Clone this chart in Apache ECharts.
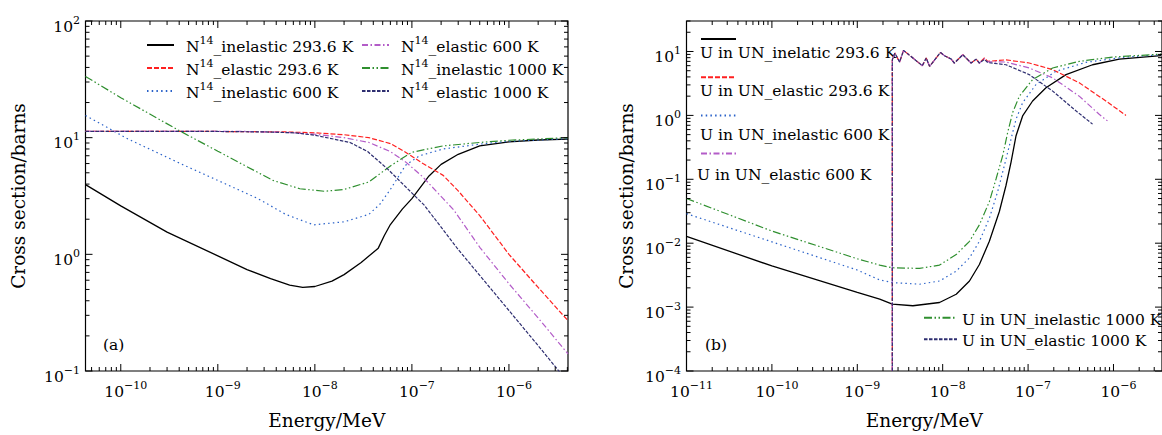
<!DOCTYPE html>
<html><head><meta charset="utf-8">
<script src="https://cdn.jsdelivr.net/npm/echarts@6/dist/echarts.min.js"></script>
<style>html,body{margin:0;padding:0;background:#fff}#c{width:1162px;height:435px}</style>
</head><body><div id="c"></div>
<script>
// ---------- Panel (a): N14 cross sections  [energy MeV, barns] ----------
const aInel293 = [[4.33e-11,3.96],[1e-10,2.6],[3e-10,1.55],[1e-9,0.97],[2e-9,0.74],[3.5e-9,0.62],[5.5e-9,0.545],[7.5e-9,0.52],[1e-8,0.53],[1.5e-8,0.59],[2e-8,0.67],[3e-8,0.85],[4.5e-8,1.13],[5.2e-8,1.45],[6e-8,1.8],[8e-8,2.45],[1e-7,3.0],[1.5e-7,4.7],[2e-7,5.9],[3e-7,7.2],[5e-7,8.5],[1e-6,9.2],[2e-6,9.55],[4.06e-6,9.7]];
const aEl293 = [[4.33e-11,11.3],[1e-9,11.3],[5e-9,11.2],[1e-8,11.0],[2e-8,10.6],[3.6e-8,10.0],[6e-8,8.9],[8.6e-8,7.5],[1.3e-7,6.0],[2.1e-7,4.75],[3e-7,3.5],[5e-7,2.15],[1e-6,1.0],[2e-6,0.52],[4.06e-6,0.27]];
const aInel600 = [[4.33e-11,15.5],[1.2e-10,9.7],[4.5e-10,5.8],[1e-9,4.3],[2.6e-9,3.0],[5e-9,2.2],[9.7e-9,1.79],[2e-8,1.9],[3.6e-8,2.2],[4.7e-8,2.7],[6e-8,3.6],[8.6e-8,5.8],[1.2e-7,7.0],[2.1e-7,8.0],[5e-7,8.8],[1e-6,9.3],[4.06e-6,9.8]];
const aEl600 = [[4.33e-11,11.3],[2e-9,11.3],[5e-9,11.1],[1e-8,10.7],[2e-8,10.0],[3.6e-8,9.1],[6e-8,7.6],[8.6e-8,6.2],[1.3e-7,4.6],[2.1e-7,3.0],[2.7e-7,2.4],[5e-7,1.15],[1e-6,0.56],[2e-6,0.285],[4.06e-6,0.14]];
const aInel1000 = [[4.33e-11,33.5],[1e-10,22],[4e-10,11.5],[1e-9,7.65],[3.7e-9,4.3],[7e-9,3.65],[1.26e-8,3.47],[2e-8,3.6],[3.6e-8,4.17],[6.1e-8,5.78],[1e-7,7.5],[2.1e-7,8.5],[5e-7,9.1],[1e-6,9.5],[4.06e-6,10.0]];
const aEl1000 = [[4.33e-11,11.3],[1e-9,11.3],[3e-9,11.2],[6.2e-9,11.0],[1e-8,10.5],[2.3e-8,9.1],[3.5e-8,7.6],[5.6e-8,5.4],[1.34e-7,2.64],[3e-7,1.1],[1e-6,0.33],[2e-6,0.165],[4.06e-6,0.08]];

// ---------- Panel (b): U in UN cross sections ----------
const bInel293 = [[1e-11,0.0128],[1e-10,4.4e-3],[1e-9,1.7e-3],[1.83e-9,1.33e-3],[2.57e-9,1.11e-3],[4.48e-9,1.05e-3],[9.18e-9,1.18e-3],[1.44e-8,1.59e-3],[2.06e-8,2.56e-3],[2.69e-8,4.64e-3],[3.52e-8,0.0107],[4.61e-8,0.0313],[5.52e-8,0.0807],[6.32e-8,0.186],[7.23e-8,0.481],[8.63e-8,0.98],[1.13e-7,1.68],[1.62e-7,2.7],[2.78e-7,4.35],[5.69e-7,6.2],[1.17e-6,7.6],[3.6e-6,8.6]];
const bEl293 = [[2.57e-9,1e-4],[2.57e-9,7.4],[2.75e-9,9.43],[3.13e-9,6.85],[3.48e-9,10.4],[5.77e-9,6.0],[6.42e-9,7.9],[7.02e-9,5.85],[9.43e-9,9.65],[1.05e-8,8.6],[1.26e-8,7.6],[1.37e-8,6.6],[1.72e-8,8.9],[2.15e-8,6.6],[2.47e-8,7.6],[2.69e-8,6.6],[3.08e-8,7.9],[3.37e-8,7.0],[5.52e-8,7.4],[1.03e-7,6.6],[1.94e-7,5.2],[3.97e-7,3.24],[8.14e-7,1.68],[1.4e-6,1.0]];
const bInel600 = [[1e-11,0.029],[1e-10,0.0105],[1e-9,3.8e-3],[1.83e-9,2.66e-3],[2.57e-9,2.42e-3],[5.36e-9,2.28e-3],[9.18e-9,2.56e-3],[1.44e-8,3.66e-3],[2.06e-8,5.89e-3],[2.69e-8,0.0107],[3.52e-8,0.0246],[4.4e-8,0.0638],[5.28e-8,0.165],[6.32e-8,0.428],[7.23e-8,0.873],[8.63e-8,1.58],[1.24e-7,3.05],[2.12e-7,4.9],[4.76e-7,6.76],[1.4e-6,8.2],[3.6e-6,8.9]];
const bEl600 = [[2.57e-9,1e-4],[2.57e-9,7.4],[2.75e-9,9.43],[3.13e-9,6.85],[3.48e-9,10.4],[5.77e-9,6.0],[6.42e-9,7.9],[7.02e-9,5.85],[9.43e-9,9.65],[1.05e-8,8.6],[1.26e-8,7.6],[1.37e-8,6.6],[1.72e-8,8.9],[2.15e-8,6.6],[2.47e-8,7.6],[2.69e-8,6.6],[3.08e-8,7.7],[3.37e-8,6.9],[5.52e-8,6.85],[1.03e-7,5.52],[1.94e-7,3.87],[3.97e-7,2.0],[6.8e-7,1.04],[8.5e-7,0.82]];
const bInel1000 = [[1e-11,0.050],[1e-10,0.0155],[1e-9,5.7e-3],[1.83e-9,4.54e-3],[2.57e-9,4.13e-3],[5.36e-9,4.03e-3],[9.18e-9,4.54e-3],[1.44e-8,6.64e-3],[2.06e-8,0.0107],[2.69e-8,0.0194],[3.52e-8,0.0447],[4.23e-8,0.103],[5.05e-8,0.236],[5.77e-8,0.543],[6.6e-8,1.11],[7.91e-8,2.0],[1.13e-7,3.64],[1.94e-7,5.52],[3.97e-7,7.0],[9.73e-7,8.18],[3.6e-6,9.1]];
const bEl1000 = [[2.57e-9,1e-4],[2.57e-9,7.4],[2.75e-9,9.43],[3.13e-9,6.85],[3.48e-9,10.4],[5.77e-9,6.0],[6.42e-9,7.9],[7.02e-9,5.85],[9.43e-9,9.65],[1.05e-8,8.6],[1.26e-8,7.6],[1.37e-8,6.6],[1.72e-8,8.9],[2.15e-8,6.6],[2.47e-8,7.6],[2.69e-8,6.6],[3.08e-8,7.5],[3.37e-8,6.7],[5.52e-8,6.2],[1.03e-7,4.35],[1.94e-7,2.4],[3.63e-7,1.18],[5.69e-7,0.73]];

// ---------- Axis extents and tick exponents ----------
const xRangeA = [4.33e-11, 4.06e-6], yRangeA = [0.1, 100];
const xRangeB = [1e-11, 3.7e-6],     yRangeB = [1e-4, 30];
const xMajorA = [-10, -9, -8, -7, -6], yMajorA = [-1, 0, 1, 2];
const xMajorB = [-11, -10, -9, -8, -7, -6], yMajorB = [-4, -3, -2, -1, 0, 1];

const namesA = ['N14_inelastic 293.6 K','N14_elastic 293.6 K','N14_inelastic 600 K','N14_elastic 600 K','N14_inelastic 1000 K','N14_elastic 1000 K'];
const namesB = ['U in UN_inelatic 293.6 K','U in UN_elastic 293.6 K','U in UN_inelastic 600 K','U in UN_elastic 600 K','U in UN_inelastic 1000 K','U in UN_elastic 1000 K'];

const FONT = 'DejaVu Serif';
const COLORS = ['#000000', '#ff2020', '#2a62c9', '#b35cc8', '#2f8f2f', '#2e2e70'];
const DASH = ['solid', [5, 2], [1.5, 3.2], [6, 2.5, 1.5, 2.5], [8, 2.5, 1.5, 2.5, 1.5, 2.5], [3.5, 1.5]];

const RICH = {
  b: {fontFamily: FONT, fontSize: 15.5, lineHeight: 20, verticalAlign: 'bottom', fill: '#000', color: '#000'},
  s: {fontFamily: FONT, fontSize: 11, lineHeight: 14, verticalAlign: 'top', fill: '#000', color: '#000'}
};
function expLabel(e) { return '{b|10}{s|' + (e < 0 ? '\u2212' : '') + Math.abs(e) + '}'; }

function tickData(xr, yr, xMaj, yMaj) {
  const d = [];
  const x0 = Math.floor(Math.log10(xr[0])), x1 = Math.ceil(Math.log10(xr[1]));
  for (let e = x0; e <= x1; e++) for (let m = 1; m <= 9; m++) {
    const v = m * Math.pow(10, e);
    if (v < xr[0] * 0.999 || v > xr[1] * 1.001) continue;
    d.push([v, yr[0], (m === 1 && xMaj.indexOf(e) >= 0) ? 0 : 1, e]);
  }
  const y0 = Math.floor(Math.log10(yr[0])), y1 = Math.ceil(Math.log10(yr[1]));
  for (let e = y0; e <= y1; e++) for (let m = 1; m <= 9; m++) {
    const v = m * Math.pow(10, e);
    if (v < yr[0] * 0.999 || v > yr[1] * 1.001) continue;
    d.push([xr[0], v, (m === 1 && yMaj.indexOf(e) >= 0) ? 2 : 3, e]);
  }
  return d;
}

function renderTicks(params, api) {
  const cs = params.coordSys;
  const kind = api.value(2), e = api.value(3);
  const p = api.coord([api.value(0), api.value(1)]);
  const ch = [];
  const st = {stroke: '#000', lineWidth: 1};
  if (kind < 2) {
    const px = p[0], len = kind === 0 ? 7 : 4, b = cs.y + cs.height, t = cs.y;
    ch.push({type: 'line', shape: {x1: px, y1: b, x2: px, y2: b - len}, style: st});
    ch.push({type: 'line', shape: {x1: px, y1: t, x2: px, y2: t + len}, style: st});
    if (kind === 0) ch.push({type: 'text', x: px + 5, y: b + 9, style: {text: expLabel(e), align: 'center', textAlign: 'center', verticalAlign: 'top', textVerticalAlign: 'top', rich: RICH, fill: '#000'}});
  } else {
    const py = p[1], len = kind === 2 ? 7 : 4, l = cs.x, r = cs.x + cs.width;
    ch.push({type: 'line', shape: {x1: l, y1: py, x2: l + len, y2: py}, style: st});
    ch.push({type: 'line', shape: {x1: r, y1: py, x2: r - len, y2: py}, style: st});
    if (kind === 2) ch.push({type: 'text', x: l - 5.5, y: py + 3.5, style: {text: expLabel(e), align: 'right', textAlign: 'right', verticalAlign: 'middle', textVerticalAlign: 'middle', rich: RICH, fill: '#000'}});
  }
  return {type: 'group', children: ch};
}

function lineSeries(name, data, i, gi) {
  return {
    type: 'line', name: name, data: data, xAxisIndex: gi, yAxisIndex: gi,
    symbol: 'none', showSymbol: false, smooth: false, clip: true, z: 2,
    lineStyle: {color: COLORS[i], width: i === 0 ? 1.3 : 1.2, type: DASH[i]},
    itemStyle: {color: COLORS[i], opacity: 0}, emphasis: {disabled: true}
  };
}

const dataA = [aInel293, aEl293, aInel600, aEl600, aInel1000, aEl1000];
const dataB = [bInel293, bEl293, bInel600, bEl600, bInel1000, bEl1000];
const series = [];
dataA.forEach((d, i) => series.push(lineSeries(namesA[i], d, i, 0)));
dataB.forEach((d, i) => series.push(lineSeries(namesB[i], d, i, 1)));
series.push({type: 'custom', xAxisIndex: 0, yAxisIndex: 0, data: tickData(xRangeA, yRangeA, xMajorA, yMajorA), renderItem: renderTicks, clip: false, silent: true, z: 5});
series.push({type: 'custom', xAxisIndex: 1, yAxisIndex: 1, data: tickData(xRangeB, yRangeB, xMajorB, yMajorB), renderItem: renderTicks, clip: false, silent: true, z: 5});

const axisName = {fontFamily: FONT, fontSize: 18.5, color: '#000'};
function logAxis(range, gi, extra) {
  return Object.assign({
    type: 'log', logBase: 10, gridIndex: gi, min: range[0], max: range[1],
    axisLine: {show: false}, axisTick: {show: false}, axisLabel: {show: false},
    splitLine: {show: false}, minorTick: {show: false}, nameTextStyle: axisName
  }, extra);
}

const legRich = {
  g: {width: 7},
  t: {fontFamily: FONT, fontSize: 15.5, lineHeight: 20, verticalAlign: 'bottom', color: '#000'},
  s: {fontFamily: FONT, fontSize: 11, lineHeight: 15, verticalAlign: 'top', color: '#000'}
};
function legFmt(name) {
  const rest = name.slice(3);
  return '{g| }{t|N}{s|14}{t|' + rest + '}';
}
const legBase = {orient: 'vertical', padding: 0, itemGap: 3, itemWidth: 27, itemHeight: 14, selectedMode: false,
  itemStyle: {opacity: 0},
  textStyle: {fontFamily: FONT, fontSize: 15.5, color: '#000', rich: legRich}};

const txt = '15.5px "DejaVu Serif"';
const option = {
  animation: false,
  backgroundColor: '#fff',
  grid: [
    {left: 85.5, top: 21, width: 482.5, height: 353.3, show: true, borderColor: '#000', borderWidth: 1.2, backgroundColor: 'transparent'},
    {left: 686.5, top: 21, width: 476.5, height: 353.3, show: true, borderColor: '#000', borderWidth: 1.2, backgroundColor: 'transparent'}
  ],
  xAxis: [
    logAxis(xRangeA, 0, {name: 'Energy/MeV', nameLocation: 'middle', nameGap: 40}),
    logAxis(xRangeB, 1, {name: 'Energy/MeV', nameLocation: 'middle', nameGap: 40})
  ],
  yAxis: [
    logAxis(yRangeA, 0, {name: 'Cross section/barns', nameLocation: 'middle', nameGap: 58, nameRotate: 90}),
    logAxis(yRangeB, 1, {name: 'Cross section/barns', nameLocation: 'middle', nameGap: 51, nameRotate: 90})
  ],
  legend: [
    Object.assign({}, legBase, {left: 146, top: 35, data: namesA.slice(0, 3), formatter: legFmt}),
    Object.assign({}, legBase, {left: 361, top: 35, data: namesA.slice(3, 6), formatter: legFmt}),
    Object.assign({}, legBase, {left: 700, top: 34, itemWidth: 35, itemHeight: 10, itemGap: 29.2, data: namesB.slice(0, 4), formatter: function () { return ''; }}),
    Object.assign({}, legBase, {left: 923, top: 311.7, itemWidth: 33, itemGap: 5.6, data: namesB.slice(4, 6),
      formatter: function (n) { return '{t|' + n + '}'; }})
  ],
  graphic: [
    {type: 'text', left: 103, top: 337, style: {text: '(a)', font: txt, fill: '#000'}},
    {type: 'text', left: 705, top: 337, style: {text: '(b)', font: txt, fill: '#000'}},
    {type: 'text', left: 700, top: 45, style: {text: namesB[0], font: txt, fill: '#000'}},
    {type: 'text', left: 700, top: 83, style: {text: namesB[1], font: txt, fill: '#000'}},
    {type: 'text', left: 700, top: 127, style: {text: namesB[2], font: txt, fill: '#000'}},
    {type: 'text', left: 697, top: 167, style: {text: namesB[3], font: txt, fill: '#000'}}
  ],
  series: series
};

const chart = echarts.init(document.getElementById('c'), null, {renderer: 'svg'});
chart.setOption(option);
</script></body></html>
